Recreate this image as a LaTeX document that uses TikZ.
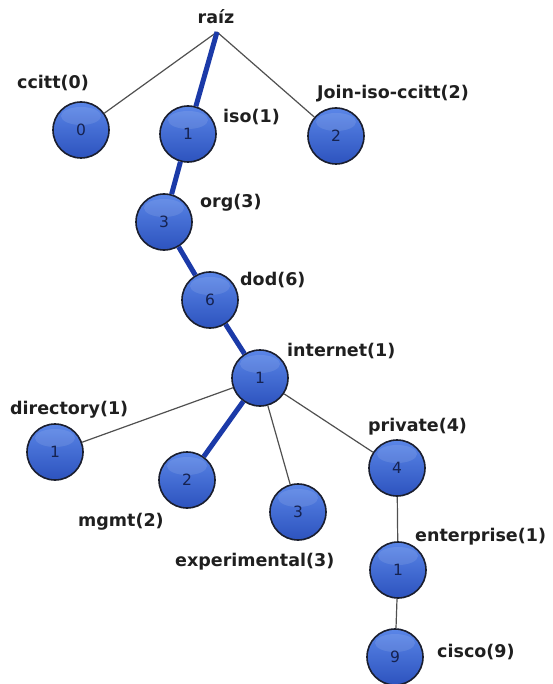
\documentclass[tikz,border=0pt]{standalone}
\usepackage{fontspec}
\setmainfont{DejaVu Sans}
\definecolor{balltop}{HTML}{5A86E8}
\definecolor{ballbot}{HTML}{2D53BE}
\definecolor{ballrim}{HTML}{1A1E2E}
\definecolor{numcol}{HTML}{16224F}
\definecolor{thinline}{HTML}{505050}
\definecolor{pathblue}{HTML}{1B3AA8}
\tikzset{
  ball/.style={circle, minimum size=56pt, inner sep=0pt, draw=ballrim, line width=1.6pt,
    top color=balltop, bottom color=ballbot, text=numcol, font=\fontsize{15.5}{16}\selectfont,
    path picture={\fill[white,opacity=0.10] ([yshift=-14pt]path picture bounding box.north) ellipse (20pt and 9pt);}},
  lbl/.style={anchor=west, inner sep=0pt, font=\fontsize{17.5}{18}\selectfont\bfseries, text=black!88},
  thin/.style={draw=thinline, line width=1.2pt},
  hot/.style={draw=pathblue, line width=5pt}
}
\begin{document}
\begin{tikzpicture}[x=1pt,y=-1pt]
\useasboundingbox[fill=white] (0,0) rectangle (552,684);
\coordinate (root) at (217,32);
\node[ball] (n0) at (81,130) {0};
\node[ball] (n1) at (188,134) {1};
\node[ball] (n2) at (336,136) {2};
\node[ball] (n3) at (164,222) {3};
\node[ball] (n6) at (210,300) {6};
\node[ball] (ni) at (260,378) {1};
\node[ball] (nd) at (55,452) {1};
\node[ball] (nm) at (187,480) {2};
\node[ball] (ne) at (298,512) {3};
\node[ball] (np) at (397,468) {4};
\node[ball] (nent) at (398,570) {1};
\node[ball] (nc) at (395,657) {9};
% connectors
\draw[thin] (root) -- (n0);
\draw[thin] (root) -- (n2);
\draw[thin] (ni) -- (nd);
\draw[thin] (ni) -- (ne);
\draw[thin] (ni) -- (np);
\draw[thin] (np) -- (nent);
\draw[thin] (nent) -- (nc);
\draw[hot] (root) -- (n1);
\draw[hot] (n1) -- (n3);
\draw[hot] (n3) -- (n6);
\draw[hot] (n6) -- (ni);
\draw[hot] (ni) -- (nm);
% labels
\node[lbl, anchor=center] (lroot) at (216,17) {raíz};
\node[lbl] (l0) at (17,83) {ccitt(0)};
\node[lbl] (l1) at (223,117) {iso(1)};
\node[lbl] (l2) at (317,94) {Join-iso-ccitt(2)};
\node[lbl] (l3) at (200,203) {org(3)};
\node[lbl] (l6) at (240,280) {dod(6)};
\node[lbl] (li) at (287,351) {internet(1)};
\node[lbl] (ld) at (10,410) {directory(1)};
\node[lbl] (lm) at (78,522) {mgmt(2)};
\node[lbl] (le) at (175,562) {experimental(3)};
\node[lbl] (lp) at (368,427) {private(4)};
\node[lbl] (lent) at (415,537) {enterprise(1)};
\node[lbl] (lc) at (437,652) {cisco(9)};
\end{tikzpicture}
\end{document}
